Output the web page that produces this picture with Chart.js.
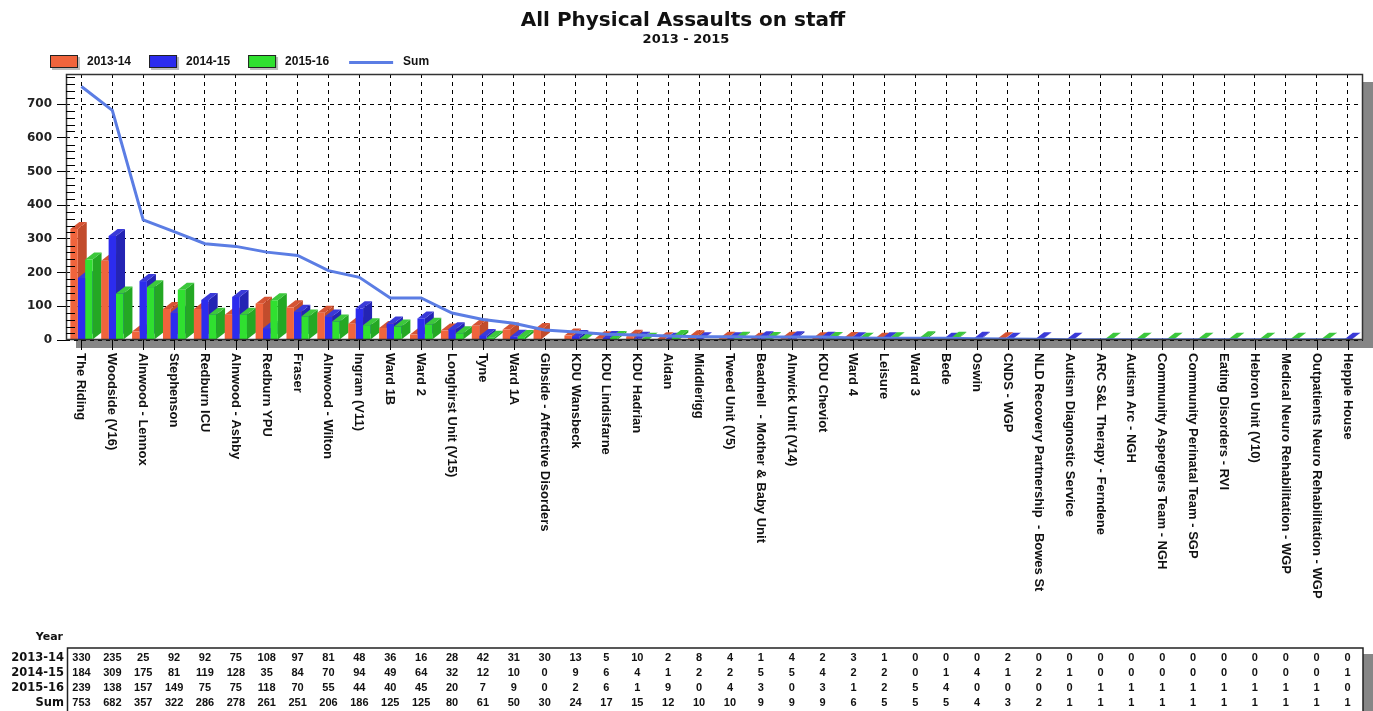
<!DOCTYPE html>
<html>
<head>
<meta charset="utf-8">
<script src="https://cdn.jsdelivr.net/npm/chart.js@4.4.0/dist/chart.umd.min.js"></script>
<style>
  html, body { margin: 0; padding: 0; background: #fff; }
  #wrap { width: 1373px; height: 711px; }
</style>
</head>
<body>
<div id="wrap"><canvas id="chart" width="1373" height="711"></canvas></div>
<script>
const wards = [
    'The Riding', 'Woodside (V16)', 'Alnwood - Lennox', 'Stephenson', 'Redburn ICU',
    'Alnwood - Ashby', 'Redburn YPU', 'Fraser', 'Alnwood - Wilton', 'Ingram (V11)',
    'Ward 1B', 'Ward 2', 'Longhirst Unit (V15)', 'Tyne', 'Ward 1A',
    'Gibside - Affective Disorders', 'KDU Wansbeck', 'KDU Lindisfarne', 'KDU Hadrian', 'Aidan',
    'Middlerigg', 'Tweed Unit (V5)', 'Beadnell  - Mother & Baby Unit', 'Alnwick Unit (V14)', 'KDU Cheviot',
    'Ward 4', 'Leisure', 'Ward 3', 'Bede', 'Oswin',
    'CNDS - WGP', 'NLD Recovery Partnership  - Bowes St', 'Autism Diagnostic Service', 'ARC S&L Therapy - Ferndene', 'Autism Arc - NGH',
    'Community Aspergers Team - NGH', 'Community Perinatal Team - SGP', 'Eating Disorders - RVI', 'Hebron Unit (V10)', 'Medical Neuro Rehabilitation - WGP',
    'Outpatients Neuro Rehabilitation - WGP', 'Hepple House'
];
const assaults1314 = [330, 235, 25, 92, 92, 75, 108, 97, 81, 48, 36, 16, 28, 42, 31, 30, 13, 5, 10, 2, 8, 4, 1, 4, 2, 3, 1, 0, 0, 0, 2, 0, 0, 0, 0, 0, 0, 0, 0, 0, 0, 0];
const assaults1415 = [184, 309, 175, 81, 119, 128, 35, 84, 70, 94, 49, 64, 32, 12, 10, 0, 9, 6, 4, 1, 2, 2, 5, 5, 4, 2, 2, 0, 1, 4, 1, 2, 1, 0, 0, 0, 0, 0, 0, 0, 0, 1];
const assaults1516 = [239, 138, 157, 149, 75, 75, 118, 70, 55, 44, 40, 45, 20, 7, 9, 0, 2, 6, 1, 9, 0, 4, 3, 0, 3, 1, 2, 5, 4, 0, 0, 0, 0, 1, 1, 1, 1, 1, 1, 1, 1, 0];
const assaultsSum  = [753, 682, 357, 322, 286, 278, 261, 251, 206, 186, 125, 125, 80, 61, 50, 30, 24, 17, 15, 12, 10, 10, 9, 9, 9, 6, 5, 5, 5, 4, 3, 2, 1, 1, 1, 1, 1, 1, 1, 1, 1, 1];
const seriesLabels = ['2013-14', '2014-15', '2015-16', 'Sum'];
const yTicks       = [0, 100, 200, 300, 400, 500, 600, 700];
const tableTitle   = 'Year';
const chartTitle    = 'All Physical Assaults on staff';
const chartSubtitle = '2013 - 2015';

const depth = { dx: 9, dy: 7 };

// 3d look, frame, rotated labels, legend and the data table underneath
const extras = {
    id: 'extras',
    beforeDraw: ( chart ) => {
        const { ctx, chartArea: a } = chart;
        ctx.save();
        ctx.fillStyle = '#fff';
        ctx.fillRect( 0, 0, chart.width, chart.height );
        ctx.fillStyle = '#868686';
        ctx.fillRect( a.left + 10, a.top + 8, a.right - a.left, a.bottom - a.top );
        ctx.fillStyle = '#fff';
        ctx.fillRect( a.left, a.top, a.right - a.left, a.bottom - a.top );
        ctx.restore();
    },
    beforeDatasetsDraw: ( chart ) => {
        const ctx = chart.ctx;
        ctx.save();
        chart.data.datasets.forEach( ( ds, i ) => {
            if ( ds.type === 'line' ) return;
            let meta = chart.getDatasetMeta( i );
            meta.data.forEach( ( bar, j ) => {
                if ( !ds.data[j] ) return;
                let p = bar.getProps( [ 'x', 'y', 'base', 'width' ], true );
                let l = p.x - p.width / 2, r = p.x + p.width / 2;
                ctx.fillStyle = ds.sideColor;
                ctx.beginPath();
                ctx.moveTo( r, p.y );
                ctx.lineTo( r + depth.dx, p.y - depth.dy );
                ctx.lineTo( r + depth.dx, p.base - depth.dy );
                ctx.lineTo( r, p.base );
                ctx.closePath();
                ctx.fill();
                ctx.fillStyle = ds.topColor;
                ctx.beginPath();
                ctx.moveTo( l, p.y );
                ctx.lineTo( l + depth.dx, p.y - depth.dy );
                ctx.lineTo( r + depth.dx, p.y - depth.dy );
                ctx.lineTo( r, p.y );
                ctx.closePath();
                ctx.fill();
            } );
        } );
        ctx.restore();
    },
    afterDraw: ( chart ) => {
        const { ctx, chartArea: a } = chart;
        const xs = chart.scales.x, ys = chart.scales.y;
        ctx.save();

        // frame
        ctx.strokeStyle = '#333';
        ctx.lineWidth = 1.5;
        ctx.strokeRect( a.left + 0.5, a.top + 0.5, a.right - a.left - 1, a.bottom - a.top - 1 );

        // minor ticks on the value axis
        ctx.strokeStyle = '#000';
        ctx.lineWidth = 1;
        for ( let v = 20; v < ys.max; v += 20 ) {
            if ( v % 100 === 0 ) continue;
            let y = Math.round( ys.getPixelForValue( v ) ) + 0.5;
            ctx.beginPath();
            ctx.moveTo( a.left, y );
            ctx.lineTo( a.left + 9, y );
            ctx.stroke();
        }

        // category ticks and rotated labels
        ctx.font = 'bold 13px "Liberation Sans", Arial, sans-serif';
        ctx.fillStyle = '#111';
        ctx.textAlign = 'left';
        ctx.textBaseline = 'middle';
        wards.forEach( ( w, i ) => {
            let x = Math.round( xs.getPixelForValue( i ) ) + 0.5;
            ctx.beginPath();
            ctx.moveTo( x, a.bottom );
            ctx.lineTo( x, a.bottom + 10 );
            ctx.stroke();
            ctx.save();
            ctx.translate( x - 1, a.bottom + 13 );
            ctx.rotate( Math.PI / 2 );
            ctx.fillText( w, 0, 0 );
            ctx.restore();
        } );

        // titles
        ctx.textAlign = 'center';
        ctx.textBaseline = 'alphabetic';
        ctx.fillStyle = '#111';
        ctx.font = 'bold 20px "DejaVu Sans", sans-serif';
        ctx.fillText( chartTitle, 683, 26 );
        ctx.font = 'bold 13px "DejaVu Sans", sans-serif';
        ctx.fillText( chartSubtitle, 686, 43 );

        // legend
        ctx.font = 'bold 12px "Liberation Sans", Arial, sans-serif';
        ctx.textAlign = 'left';
        ctx.textBaseline = 'middle';
        let lx = 50;
        chart.data.datasets.forEach( ( ds ) => {
            if ( ds.type === 'line' ) {
                ctx.strokeStyle = ds.borderColor;
                ctx.lineWidth = 3;
                ctx.beginPath();
                ctx.moveTo( lx + 2, 62.5 );
                ctx.lineTo( lx + 46, 62.5 );
                ctx.stroke();
                ctx.fillStyle = '#111';
                ctx.fillText( ds.label, lx + 56, 61.5 );
                return;
            }
            ctx.fillStyle = '#bbb';
            ctx.fillRect( lx + 2, 57, 28, 13 );
            ctx.fillStyle = ds.backgroundColor;
            ctx.fillRect( lx, 55, 28, 13 );
            ctx.strokeStyle = '#222';
            ctx.lineWidth = 1;
            ctx.strokeRect( lx + 0.5, 55.5, 27, 12 );
            ctx.fillStyle = '#111';
            ctx.fillText( ds.label, lx + 37, 61.5 );
            lx += 37 + ctx.measureText( ds.label ).width + 18;
        } );

        // data table
        const top = 648, rowH = 15;
        ctx.fillStyle = '#868686';
        ctx.fillRect( a.right, top + 6, 10, chart.height - top );
        ctx.fillStyle = '#fff';
        ctx.fillRect( a.left, top, a.right - a.left, chart.height - top );
        ctx.strokeStyle = '#222';
        ctx.lineWidth = 1.5;
        ctx.beginPath();
        ctx.moveTo( a.left + 1.5, chart.height );
        ctx.lineTo( a.left + 1.5, top );
        ctx.lineTo( a.right, top );
        ctx.lineTo( a.right, chart.height );
        ctx.stroke();

        ctx.fillStyle = '#111';
        ctx.font = 'bold 11px "DejaVu Sans", sans-serif';
        ctx.textAlign = 'right';
        ctx.fillText( tableTitle, 63, 637 );
        const rows = [ assaults1314, assaults1415, assaults1516, assaultsSum ];
        rows.forEach( ( row, r ) => {
            let y = top + 10 + r * rowH;
            ctx.font = 'bold 11.5px "DejaVu Sans", sans-serif';
            ctx.textAlign = 'right';
            ctx.fillText( seriesLabels[r], 64, y );
            ctx.font = 'bold 11px "Liberation Sans", Arial, sans-serif';
            ctx.textAlign = 'center';
            row.forEach( ( v, i ) => {
                ctx.fillText( String( v ), xs.getPixelForValue( i ), y );
            } );
        } );

        ctx.restore();
    }
};

let ctx = document.getElementById( 'chart' ).getContext( '2d' );
let chart = new Chart( ctx, {
    type: 'bar',
    data: {
        labels: wards,
        datasets: [
            {
                label: seriesLabels[0],
                data: assaults1314,
                backgroundColor: '#F0643C',
                sideColor: '#C24C2C',
                topColor: '#D65434',
                categoryPercentage: 0.72,
                barPercentage: 1
            },
            {
                label: seriesLabels[1],
                data: assaults1415,
                backgroundColor: '#2C2CEE',
                sideColor: '#2424B4',
                topColor: '#3A3AD8',
                categoryPercentage: 0.72,
                barPercentage: 1
            },
            {
                label: seriesLabels[2],
                data: assaults1516,
                backgroundColor: '#30E030',
                sideColor: '#24A824',
                topColor: '#3CC83C',
                categoryPercentage: 0.72,
                barPercentage: 1
            },
            {
                type: 'line',
                label: seriesLabels[3],
                data: assaultsSum,
                borderColor: '#5B7DE4',
                borderWidth: 3,
                pointRadius: 0,
                tension: 0,
                order: -1
            }
        ]
    },
    options: {
        responsive: false,
        animation: false,
        devicePixelRatio: 1,
        layout: {
            padding: { left: 0, top: 74, right: 10, bottom: 371 }
        },
        plugins: {
            legend: { display: false },
            tooltip: { enabled: false }
        },
        scales: {
            x: {
                offset: true,
                grid: { offset: false, color: '#000', lineWidth: 1, drawTicks: false },
                border: { display: false, dash: [ 4, 4 ] },
                ticks: { display: false },
                afterFit: ( s ) => { s.height = 0; }
            },
            y: {
                min: 0,
                max: 790,
                afterBuildTicks: ( s ) => { s.ticks = yTicks.map( ( v ) => ( { value: v } ) ); },
                ticks: {
                    padding: 5,
                    color: '#222',
                    font: { family: '"DejaVu Sans", sans-serif', size: 12, weight: 'bold' }
                },
                grid: { color: '#000', lineWidth: 1, tickLength: 9, tickColor: '#000' },
                border: { display: false, dash: [ 4, 4 ] },
                afterFit: ( s ) => { s.width = 66; }
            }
        }
    },
    plugins: [ extras ]
} );
</script>
</body>
</html>
